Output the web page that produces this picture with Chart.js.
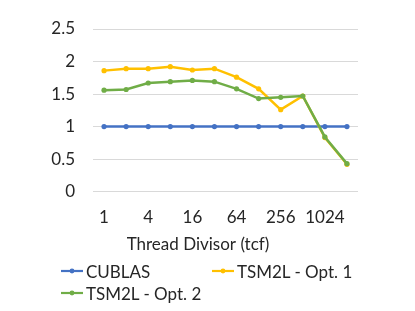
<!DOCTYPE html>
<html>
<head>
<meta charset="utf-8">
<script src="https://cdn.jsdelivr.net/npm/chart.js@4"></script>
<style>
    body { margin: 0; background: #fff; }
    #wrap { position: relative; width: 415px; height: 311px; }
    #legend {
        position: absolute; left: 61px; top: 260px;
        display: grid; grid-template-columns: 151px auto;
        font-family: Lato, sans-serif; font-size: 17px; color: #262626;
    }
    .item { display: flex; align-items: center; height: 22px; white-space: nowrap; }
    .item svg { margin-right: 3px; }
</style>
</head>
<body>
<div id="wrap">
    <canvas id="chart" width="415" height="311"></canvas>
    <div id="legend"></div>
</div>
<script>
var divisors = ["1", "2", "4", "8", "16", "32", "64", "128", "256", "512", "1024", "2048"];
var cublas = [1, 1, 1, 1, 1, 1, 1, 1, 1, 1, 1, 1];
var opt1 = [1.86, 1.89, 1.89, 1.92, 1.87, 1.89, 1.76, 1.58, 1.26, 1.47, 0.83, 0.42];
var opt2 = [1.56, 1.57, 1.67, 1.69, 1.71, 1.69, 1.58, 1.43, 1.45, 1.47, 0.84, 0.43];
var yTicks = [0, 0.5, 1, 1.5, 2, 2.5];

var textColor = '#262626';
var fontFamily = 'Lato, sans-serif';

function series(label, data, color, order) {
    return {
        label: label,
        data: data,
        borderColor: color,
        backgroundColor: color,
        borderWidth: 2.5,
        pointRadius: 2.6,
        pointBorderWidth: 0,
        pointHoverRadius: 2.6,
        tension: 0,
        order: order
    };
}

// builds the html legend from the datasets
var htmlLegend = {
    id: 'htmlLegend',
    afterUpdate: function (chart) {
        var box = document.getElementById('legend');
        box.innerHTML = '';
        chart.data.datasets.forEach(function (ds) {
            var el = document.createElement('div');
            el.className = 'item';
            el.innerHTML = '<svg width="22" height="8"><line x1="0" y1="4" x2="22" y2="4" stroke="' + ds.borderColor +
                '" stroke-width="2.2"/><circle cx="11" cy="4" r="2.4" fill="' + ds.borderColor + '"/></svg>';
            el.appendChild(document.createTextNode(ds.label));
            box.appendChild(el);
        });
    }
};

new Chart(document.getElementById('chart'), {
    type: 'line',
    data: {
        labels: divisors,
        datasets: [
            series('CUBLAS', cublas, '#4472C4', 3),
            series('TSM2L - Opt. 1', opt1, '#FFC000', 2),
            series('TSM2L - Opt. 2', opt2, '#70AD47', 1)
        ]
    },
    plugins: [htmlLegend],
    options: {
        responsive: false,
        animation: false,
        layout: { padding: { left: 38, right: 57, top: 29, bottom: 56 } },
        plugins: {
            legend: { display: false },
            tooltip: { enabled: false },
            title: {
                display: true,
                position: 'bottom',
                text: 'Thread Divisor (tcf)',
                color: textColor,
                font: { family: fontFamily, size: 17, weight: 'normal' },
                padding: { top: 8, bottom: 0 }
            }
        },
        scales: {
            x: {
                offset: true,
                afterFit: function (scale) { scale.height = 35; },
                grid: { display: false, drawTicks: false },
                border: { display: false },
                ticks: {
                    autoSkip: false,
                    maxRotation: 0,
                    padding: 16,
                    color: textColor,
                    font: { family: fontFamily, size: 17 },
                    callback: function (v, i) { return i % 2 === 0 ? divisors[i] : ''; }
                }
            },
            y: {
                min: 0,
                max: 2.5,
                afterFit: function (scale) { scale.width = 55; },
                afterBuildTicks: function (scale) {
                    scale.ticks = yTicks.map(function (v) { return { value: v }; });
                },
                grid: { color: '#d9d9d9', lineWidth: 1, drawTicks: false },
                border: { display: false },
                ticks: {
                    padding: 18,
                    color: textColor,
                    font: { family: fontFamily, size: 17 },
                    callback: function (v) { return String(v); }
                }
            }
        }
    }
});
</script>
</body>
</html>
